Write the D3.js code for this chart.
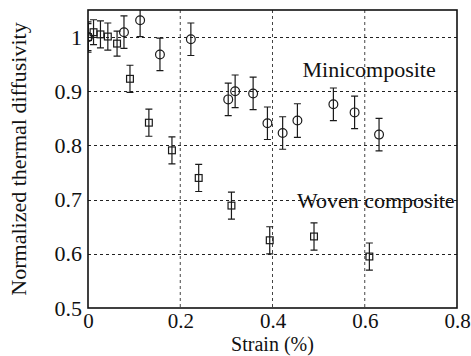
<!DOCTYPE html>
<html>
<head>
<meta charset="utf-8">
<script src="https://cdn.jsdelivr.net/npm/d3@7"></script>
<style>
  body { margin: 0; background: #fff; }
  svg text { font-family: "Liberation Serif", "Times New Roman", Times, "DejaVu Serif", serif !important; }
</style>
</head>
<body>
<svg id="chart" width="471" height="356"></svg>
<script>
// minicomposite (circles)
const miniStrain = [0, 0.078, 0.113, 0.156, 0.223, 0.304, 0.319, 0.358, 0.389, 0.422, 0.454, 0.532, 0.578, 0.631];
const miniDiff   = [1.0, 1.009, 1.031, 0.968, 0.996, 0.885, 0.9, 0.896, 0.841, 0.823, 0.846, 0.876, 0.861, 0.82];
const miniErr    = [0.028, 0.03, 0.03, 0.03, 0.03, 0.03, 0.03, 0.03, 0.03, 0.03, 0.031, 0.03, 0.03, 0.03];

// woven composite (squares)
const wovenStrain = [0, 0.012, 0.027, 0.043, 0.063, 0.091, 0.132, 0.182, 0.24, 0.311, 0.394, 0.49, 0.61];
const wovenDiff   = [1.0, 1.009, 1.005, 1.001, 0.988, 0.923, 0.842, 0.791, 0.74, 0.689, 0.625, 0.632, 0.595];
const wovenErr    = [0.025, 0.023, 0.025, 0.025, 0.023, 0.025, 0.025, 0.025, 0.025, 0.025, 0.025, 0.025, 0.025];

const xTicks = [0, 0.2, 0.4, 0.6, 0.8];
const yTicks = [0.5, 0.6, 0.7, 0.8, 0.9, 1.0];

const W = 471, H = 356;
const m = { top: 10, right: 14, bottom: 48, left: 88 };
const iw = W - m.left - m.right, ih = H - m.top - m.bottom;

const x = d3.scaleLinear().domain([0, 0.8]).range([0, iw]);
const y = d3.scaleLinear().domain([0.5, 1.05]).range([ih, 0]);

const svg = d3.select('#chart');
const g = svg.append('g').attr('transform', `translate(${m.left},${m.top})`);

g.append('defs').append('clipPath').attr('id', 'clip')
  .append('rect').attr('width', iw).attr('height', ih);

// grid
g.append('g').selectAll('line').data(yTicks.slice(1)).join('line')
  .attr('x1', 0).attr('x2', iw)
  .attr('y1', d => Math.round(y(d)) + 0.5).attr('y2', d => Math.round(y(d)) + 0.5)
  .attr('stroke', '#222').attr('stroke-dasharray', '3,3');
g.append('g').selectAll('line').data(xTicks.slice(1, -1)).join('line')
  .attr('y1', 0).attr('y2', ih)
  .attr('x1', d => x(d)).attr('x2', d => x(d))
  .attr('stroke', '#444').attr('stroke-dasharray', '3,3');

// axes labels
const xAxis = d3.axisBottom(x).tickValues(xTicks).tickSize(0).tickPadding(5)
  .tickFormat(d => d === 0 ? '0' : d3.format('.1f')(d));
const yAxis = d3.axisLeft(y).tickValues(yTicks).tickSize(0).tickPadding(6)
  .tickFormat(d => d === 1 ? '1' : d3.format('.1f')(d));

g.append('g').attr('transform', `translate(0,${ih})`).call(xAxis)
  .call(a => a.select('.domain').remove())
  .selectAll('text').attr('font-size', 21).attr('fill', '#111');
g.append('g').call(yAxis)
  .call(a => a.select('.domain').remove())
  .selectAll('text').attr('font-size', 22).attr('fill', '#111');

// data
const plot = g.append('g').attr('clip-path', 'url(#clip)');

function errorBars(xs, ys, es, cls) {
  const grp = plot.append('g').attr('class', cls)
    .attr('stroke', '#1a1a1a').attr('stroke-width', 1.2).attr('fill', 'none');
  const data = xs.map((v, i) => ({ x: v, y: ys[i], e: es[i] }));
  grp.selectAll('path.bar').data(data).join('path').attr('class', 'bar')
    .attr('d', d => {
      const px = x(d.x), top = y(d.y + d.e), bot = y(d.y - d.e);
      return `M${px},${top}V${bot}M${px - 3.5},${top}H${px + 3.5}M${px - 3.5},${bot}H${px + 3.5}`;
    });
  return { grp, data };
}

const mini = errorBars(miniStrain, miniDiff, miniErr, 'mini');
mini.grp.selectAll('circle').data(mini.data).join('circle')
  .attr('cx', d => x(d.x)).attr('cy', d => y(d.y)).attr('r', 4.4);

const woven = errorBars(wovenStrain, wovenDiff, wovenErr, 'woven');
woven.grp.selectAll('rect').data(woven.data).join('rect')
  .attr('x', d => x(d.x) - 3.4).attr('y', d => y(d.y) - 3.4)
  .attr('width', 6.8).attr('height', 6.8);

// box
g.append('rect').attr('width', iw).attr('height', ih)
  .attr('fill', 'none').attr('stroke', '#111').attr('stroke-width', 1.6);

// annotations
g.append('text').attr('x', x(0.465)).attr('y', y(0.926))
  .attr('font-size', 22).attr('fill', '#111').text('Minicomposite');
g.append('text').attr('x', x(0.453)).attr('y', y(0.684))
  .attr('font-size', 22).attr('fill', '#111').text('Woven composite');

// titles
svg.append('text').attr('x', m.left + iw / 2).attr('y', 351)
  .attr('text-anchor', 'middle').attr('font-size', 20).attr('fill', '#111')
  .text('Strain (%)');
svg.append('text').attr('transform', `translate(26,${m.top + ih / 2}) rotate(-90)`)
  .attr('text-anchor', 'middle').attr('font-size', 22).attr('fill', '#111')
  .text('Normalized thermal diffusivity');
</script>
</body>
</html>
